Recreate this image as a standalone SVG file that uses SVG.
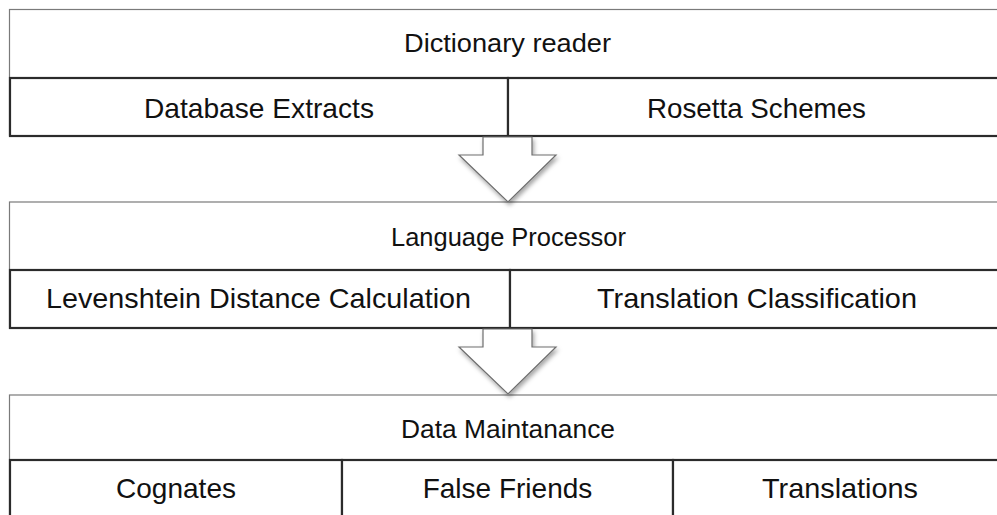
<svg xmlns="http://www.w3.org/2000/svg" width="997" height="515" viewBox="0 0 997 515">
<style>
.outer{fill:#ffffff;stroke:#7a7a7a;stroke-width:1.2}
.sub{fill:#ffffff;stroke:#2b2b2b;stroke-width:2.2}
.hdr{font-family:"Liberation Sans",Arial,sans-serif;font-size:26px;fill:#111;text-anchor:middle}
.lbl{font-family:"Liberation Sans",Arial,sans-serif;font-size:28px;fill:#111;text-anchor:middle}
.arrow{fill:#ffffff;stroke:#6e6e6e;stroke-width:1.2;stroke-linejoin:miter}
</style>
<defs>
<filter id="shadow" x="-20%" y="-20%" width="140%" height="150%">
<feDropShadow dx="1.5" dy="3" stdDeviation="2" flood-color="#000" flood-opacity="0.35"/>
</filter>
</defs>
<rect width="997" height="515" fill="#ffffff"/>

<g id="dictionary-reader">
<rect class="outer" x="9.5" y="9.5" width="1000" height="126"/>
<text class="hdr" x="507.5" y="52" textLength="207" lengthAdjust="spacingAndGlyphs">Dictionary reader</text>
</g>
<g id="database-extracts">
<rect class="sub" x="10" y="78" width="498" height="58"/>
<text class="lbl" x="259" y="118" textLength="230" lengthAdjust="spacingAndGlyphs">Database Extracts</text>
</g>
<g id="rosetta-schemes">
<rect class="sub" x="508" y="78" width="500" height="58"/>
<text class="lbl" x="756.5" y="118" textLength="219" lengthAdjust="spacingAndGlyphs">Rosetta Schemes</text>
</g>

<g id="language-processor">
<rect class="outer" x="9.5" y="202" width="1000" height="126"/>
<text class="hdr" x="508.5" y="246" textLength="235" lengthAdjust="spacingAndGlyphs">Language Processor</text>
</g>
<g id="levenshtein">
<rect class="sub" x="10" y="270" width="500" height="58"/>
<text class="lbl" x="258.5" y="308" textLength="425" lengthAdjust="spacingAndGlyphs">Levenshtein Distance Calculation</text>
</g>
<g id="translation-classification">
<rect class="sub" x="510" y="270" width="498" height="58"/>
<text class="lbl" x="757" y="308" textLength="320" lengthAdjust="spacingAndGlyphs">Translation Classification</text>
</g>

<g id="data-maintanance">
<rect class="outer" x="9.5" y="395" width="1000" height="140"/>
<text class="hdr" x="508" y="438" textLength="214" lengthAdjust="spacingAndGlyphs">Data Maintanance</text>
</g>
<g id="cognates">
<rect class="sub" x="10" y="460" width="332" height="70"/>
<text class="lbl" x="176" y="498" textLength="120" lengthAdjust="spacingAndGlyphs">Cognates</text>
</g>
<g id="false-friends">
<rect class="sub" x="342" y="460" width="331" height="70"/>
<text class="lbl" x="507.5" y="498">False Friends</text>
</g>
<g id="translations">
<rect class="sub" x="673" y="460" width="336" height="70"/>
<text class="lbl" x="840" y="498" textLength="156" lengthAdjust="spacingAndGlyphs">Translations</text>
</g>

<g id="connectors">
<path class="arrow" filter="url(#shadow)" d="M483,137 L532,137 L532,155 L556,155 L508,202 L459,155 L483,155 Z"/>
<path class="arrow" filter="url(#shadow)" d="M483,329 L532,329 L532,347 L556,347 L508,394 L459,347 L483,347 Z"/>
</g>
</svg>
